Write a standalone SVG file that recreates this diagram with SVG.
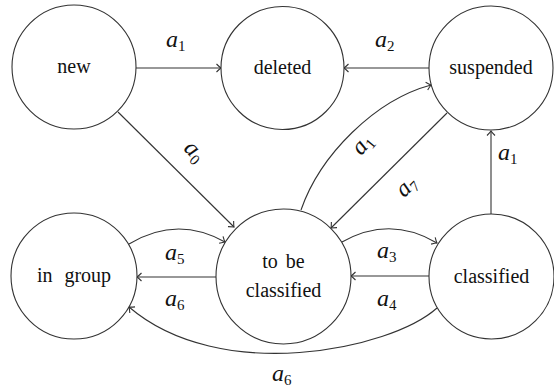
<svg xmlns="http://www.w3.org/2000/svg" width="554" height="389" viewBox="0 0 554 389">
  <style>
    .node circle { fill: #ffffff; stroke: #333333; stroke-width: 1.1; }
    .node text { font-family: 'Liberation Serif', 'Times New Roman', serif; font-size: 20px; fill: #111111; text-anchor: middle; }
    .edges path { fill: none; stroke: #333333; stroke-width: 1.1; marker-end: url(#arr); }
    .lbl { font-family: 'Liberation Serif', 'Times New Roman', serif; font-size: 24px; font-style: italic; fill: #111111; }
    .lbl tspan { font-style: normal; font-size: 15px; }
    .mid { text-anchor: middle; }
  </style>
  <defs>
    <!-- open "to"-style arrow tip -->
    <marker id="arr" markerWidth="12" markerHeight="12" refX="0" refY="0" viewBox="-6 -6 12 12" markerUnits="userSpaceOnUse" orient="auto">
      <path d="M-4.5,-4 Q-1.5,-1 0,0 Q-1.5,1 -4.5,4" fill="none" stroke="#333333" stroke-width="1.1"/>
    </marker>
  </defs>

  <rect width="554" height="389" fill="#ffffff"/>

  <!-- transitions -->
  <g id="edges" class="edges">
    <path d="M136,68 L221,68"/>
    <path d="M429,68 L344,68"/>
    <path d="M118,112 L234,227"/>
    <path d="M301,210 C320,155 375,100 431,85"/>
    <path d="M447,113 L331,228"/>
    <path d="M491,214 L491,131"/>
    <path d="M342,242 Q390,215 437,243"/>
    <path d="M429,276 L351,276"/>
    <path d="M129,244 Q177,215 225,242"/>
    <path d="M216,277 L137,277"/>
    <path d="M437,308 C390,350 220,385 129,307"/>
  </g>

  <!-- transition labels -->
  <g id="labels">
    <text class="lbl" x="166" y="47">a<tspan dy="4">1</tspan></text>
    <text class="lbl" x="375" y="47">a<tspan dy="4">2</tspan></text>
    <text class="lbl mid" transform="translate(194,152) rotate(45)" y="6">a<tspan dy="4">0</tspan></text>
    <text class="lbl mid" transform="translate(363,145) rotate(-50)" y="6">a<tspan dy="4">1</tspan></text>
    <text class="lbl mid" transform="translate(407,187) rotate(-45)" y="6">a<tspan dy="4">7</tspan></text>
    <text class="lbl" x="498" y="160">a<tspan dy="4">1</tspan></text>
    <text class="lbl" x="165" y="260">a<tspan dy="4">5</tspan></text>
    <text class="lbl" x="165" y="306">a<tspan dy="4">6</tspan></text>
    <text class="lbl" x="377" y="258">a<tspan dy="4">3</tspan></text>
    <text class="lbl" x="377" y="306">a<tspan dy="4">4</tspan></text>
    <text class="lbl" x="272" y="381">a<tspan dy="4">6</tspan></text>
  </g>

  <!-- states -->
  <g id="new" class="node">
    <circle cx="74" cy="67" r="62"/>
    <text x="74" y="73">new</text>
  </g>
  <g id="deleted" class="node">
    <circle cx="282.5" cy="68" r="61.5"/>
    <text x="282.5" y="74">deleted</text>
  </g>
  <g id="suspended" class="node">
    <circle cx="491" cy="68" r="62"/>
    <text x="491" y="74">suspended</text>
  </g>
  <g id="in-group" class="node">
    <circle cx="74" cy="276" r="63"/>
    <text x="74" y="282" word-spacing="7">in group</text>
  </g>
  <g id="to-be-classified" class="node">
    <circle cx="283.5" cy="276.5" r="67.5"/>
    <text x="283.5" y="268" word-spacing="3">to be</text>
    <text x="283.5" y="297">classified</text>
  </g>
  <g id="classified" class="node">
    <circle cx="491.5" cy="276.5" r="62.5"/>
    <text x="491.5" y="283">classified</text>
  </g>
</svg>
